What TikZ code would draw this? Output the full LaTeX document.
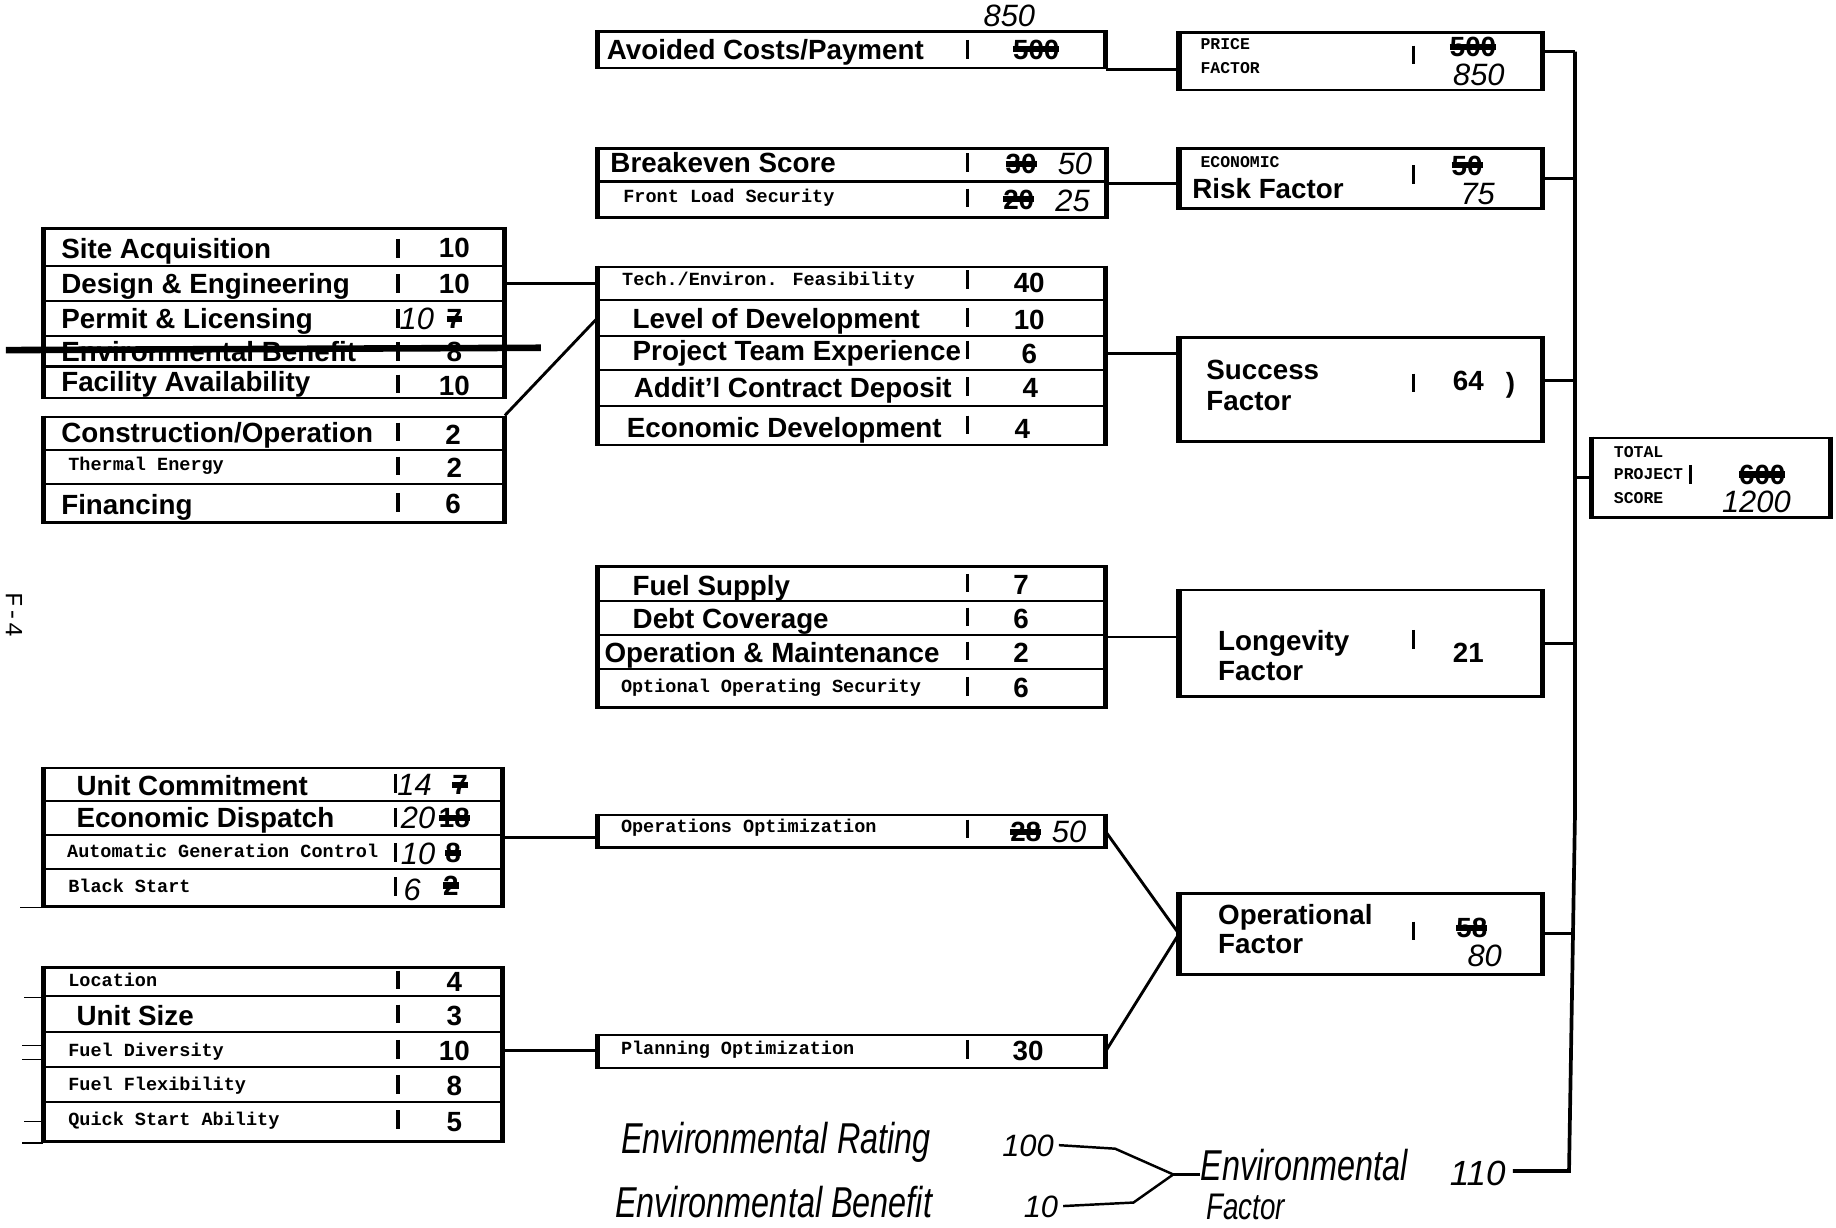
\documentclass[tikz,border=0pt]{standalone}
\usepackage{fontspec}
\setmainfont{Liberation Sans}
\newfontfamily\monof{Liberation Mono}
\newfontfamily\handw[FakeStretch=0.75]{Liberation Sans}
\newfontfamily\handn{Liberation Sans}
\usetikzlibrary{fit}
\newsavebox\skbox
\newcommand\sk[1]{\sbox\skbox{#1}\rlap{\rule[0.24em]{\wd\skbox}{0.22em}}\usebox\skbox}
\newcommand\bigf{\fontsize{13.5}{15}\selectfont\bfseries}
\newcommand\smf{\fontsize{9}{10}\selectfont\monof\bfseries}
\newcommand\tinyf{\fontsize{8}{9}\selectfont\monof\bfseries}
\newcommand\hn{\fontsize{15}{17}\selectfont\handn\itshape}
\newcommand\hw{\fontsize{21}{24}\selectfont\handw\itshape}
\newcommand\tk[2]{\draw[tk] (#1,#2) ++(0,-8) -- ++(0,16);}
\newcommand\rs[2]{\draw[sep] (#1.west |- 0,#2) -- (#1.east |- 0,#2);}
\newcommand\sides[1]{\draw[side] (#1.north west) -- (#1.south west) (#1.north east) -- (#1.south east);}
\tikzset{
  box/.style={draw, line width=1.3pt, inner sep=0pt},
  lbl/.style={anchor=west, inner sep=0pt, font=\bigf, text height=9.7pt, text depth=0pt},
  slbl/.style={anchor=west, inner sep=0pt, font=\smf, text height=5.9pt, text depth=0pt},
  tlbl/.style={slbl, font=\tinyf, text height=5.3pt},
  val/.style={inner sep=0pt, font=\bigf, text height=9.7pt, text depth=0pt},
  hv/.style={inner sep=0pt, font=\hn, text height=10.7pt, text depth=0pt},
  hwl/.style={anchor=west, inner sep=0pt, font=\hw, text height=15pt, text depth=0pt},
  sep/.style={line width=1pt},
  tk/.style={line width=1.6pt},
  conn/.style={line width=1.4pt},
  side/.style={line width=2.4pt},
  thinl/.style={line width=1.2pt},
  stub/.style={line width=0.6pt}
}
\begin{document}
\begin{tikzpicture}[x=0.02cm,y=-0.02cm]
\useasboundingbox[fill=white] (0,0) rectangle (1568,1048);

% ---------- Avoided costs ----------
\node[box, fit={(511,27)(943,58)}] (av) {};
\sides{av}
\node[lbl] (avt) at (518,42) {Avoided Costs/Payment};
\tk{826}{42}
\node[val] (avv) at (885,42) {\sk{500}};
\node[hv] (avh) at (862,13) {850};

% ---------- Price factor ----------
\node[box, fit={(1008,28)(1316,77)}] (pr) {};
\sides{pr}
\node[tlbl] (prt1) at (1025,38) {PRICE};
\node[tlbl] (prt2) at (1025,58) {FACTOR};
\tk{1207}{47}
\node[val] (prv) at (1258,40) {\sk{500}};
\node[hv] (prh) at (1263,64) {850};

% ---------- Breakeven ----------
\node[box, fit={(511,127)(944,186)}] (br) {};
\sides{br}
\rs{br}{155}
\node[lbl] (brt1) at (521,139) {Breakeven Score};
\node[slbl] (brt2) at (532,168) {Front Load Security};
\tk{826}{139} \tk{826}{169}
\node[val] (brv1) at (872,140) {\sk{30}};
\node[hv] (brh1) at (918,140) {50};
\node[val] (brv2) at (870,170) {\sk{20}};
\node[hv] (brh2) at (916,171) {25};

% ---------- Economic risk factor ----------
\node[box, fit={(1008,127)(1316,178)}] (rk) {};
\sides{rk}
\node[tlbl] (rkt1) at (1025,138) {ECONOMIC};
\node[lbl] (rkt2) at (1018,161) {Risk Factor};
\tk{1207}{149}
\node[val] (rkv) at (1253,141) {\sk{50}};
\node[hv] (rkh) at (1262,165) {75};

% ---------- Left box 1 ----------
\node[box, fit={(38,195)(430,340)}] (l1) {};
\sides{l1}
\rs{l1}{227} \rs{l1}{257} \rs{l1}{287} \rs{l1}{313}
\node[lbl] (l1t1) at (52,212) {Site Acquisition};
\node[lbl] (l1t2) at (52,242) {Design \& Engineering};
\node[lbl] (l1t3) at (52,272) {Permit \& Licensing};
\node[lbl] (l1t4) at (52,300) {Environmental Benefit};
\node[lbl] (l1t5) at (52,326) {Facility Availability};
\tk{340}{212} \tk{340}{242} \tk{340}{272} \tk{340}{300} \tk{340}{328}
\node[val] (l1v1) at (388,211) {10};
\node[val] (l1v2) at (388,242) {10};
\node[hv] (l1h3) at (356,272) {10};
\node[val] (l1v3) at (388,272) {\sk{7}};
\node[val] (l1v4) at (388,300) {8};
\node[val] (l1v5) at (388,329) {10};
\draw[line width=3.2pt] (5,299) -- (462,297);

% ---------- Left box 2 ----------
\node[box, fit={(38,356)(430,446)}] (l2) {};
\sides{l2}
\rs{l2}{384} \rs{l2}{413}
\node[lbl] (l2t1) at (52,369) {Construction/Operation};
\node[slbl] (l2t2) at (58,397) {Thermal Energy};
\node[lbl] (l2t3) at (52,431) {Financing};
\tk{340}{369} \tk{340}{398} \tk{340}{429}
\node[val] (l2v1) at (387,371) {2};
\node[val] (l2v2) at (388,399) {2};
\node[val] (l2v3) at (387,430) {6};

% ---------- Tech / success inputs ----------
\node[box, fit={(511,228)(943,380)}] (te) {};
\sides{te}
\rs{te}{256} \rs{te}{287} \rs{te}{316} \rs{te}{347}
\node[slbl] (tet1) at (531,239) {Tech./Environ. Feasibility};
\node[lbl] (tet2) at (540,272) {Level of Development};
\node[lbl] (tet3) at (540,299) {Project Team Experience};
\node[lbl] (tet4) at (541,331) {Addit'l Contract Deposit};
\node[lbl] (tet5) at (535,365) {Economic Development};
\tk{826}{239} \tk{826}{271} \tk{826}{299} \tk{826}{330} \tk{826}{363}
\node[val] (tev1) at (879,241) {40};
\node[val] (tev2) at (879,273) {10};
\node[val] (tev3) at (879,302) {6};
\node[val] (tev4) at (880,331) {4};
\node[val] (tev5) at (873,366) {4};

% ---------- Success factor ----------
\node[box, fit={(1008,288)(1316,377)}] (sc) {};
\sides{sc}
\node[lbl] (sct1) at (1030,316) {Success};
\node[lbl] (sct2) at (1030,342) {Factor};
\tk{1207}{327}
\node[val] (scv) at (1254,325) {64};
\node[val] (scp) at (1290,327) {)};

% ---------- Longevity inputs ----------
\node[box, fit={(511,484)(943,604)}] (lg) {};
\sides{lg}
\rs{lg}{513} \rs{lg}{542} \rs{lg}{571}
\node[lbl] (lgt1) at (540,500) {Fuel Supply};
\node[lbl] (lgt2) at (540,528) {Debt Coverage};
\node[lbl] (lgt3) at (516,557) {Operation \& Maintenance};
\node[slbl] (lgt4) at (530,586) {Optional Operating Security};
\tk{826}{498} \tk{826}{527} \tk{826}{556} \tk{826}{586}
\node[val] (lgv1) at (872,499) {7};
\node[val] (lgv2) at (872,528) {6};
\node[val] (lgv3) at (872,557) {2};
\node[val] (lgv4) at (872,587) {6};

% ---------- Longevity factor ----------
\node[box, fit={(1008,504)(1316,595)}] (lf) {};
\sides{lf}
\node[lbl] (lft1) at (1040,547) {Longevity};
\node[lbl] (lft2) at (1040,573) {Factor};
\tk{1207}{546}
\node[val] (lfv) at (1254,557) {21};

% ---------- Unit commitment box ----------
\node[box, fit={(38,656)(428,774)}] (uc) {};
\sides{uc}
\rs{uc}{684} \rs{uc}{713} \rs{uc}{742}
\node[lbl] (uct1) at (65,671) {Unit Commitment};
\node[lbl] (uct2) at (65,698) {Economic Dispatch};
\node[slbl] (uct3) at (57,727) {Automatic Generation Control};
\node[slbl] (uct4) at (58,757) {Black Start};
\tk{338}{669} \tk{338}{698} \tk{338}{728} \tk{338}{757}
\node[hv] (uch1) at (354,670) {14};
\node[val] (ucv1) at (393,670) {\sk{7}};
\node[hv] (uch2) at (357,698) {20};
\node[val] (ucv2) at (388,698) {\sk{18}};
\node[hv] (uch3) at (357,729) {10};
\node[val] (ucv3) at (387,728) {\sk{8}};
\node[hv] (uch4) at (352,760) {6};
\node[val] (ucv4) at (385,756) {\sk{2}};

% ---------- Location box ----------
\node[box, fit={(38,826)(428,975)}] (lo) {};
\sides{lo}
\rs{lo}{851} \rs{lo}{881} \rs{lo}{911} \rs{lo}{941}
\node[slbl] (lot1) at (58,837) {Location};
\node[lbl] (lot2) at (65,867) {Unit Size};
\node[slbl] (lot3) at (58,897) {Fuel Diversity};
\node[slbl] (lot4) at (58,926) {Fuel Flexibility};
\node[slbl] (lot5) at (58,956) {Quick Start Ability};
\tk{340}{837} \tk{340}{866} \tk{340}{896} \tk{340}{926} \tk{340}{956}
\node[val] (lov1) at (388,838) {4};
\node[val] (lov2) at (388,867) {3};
\node[val] (lov3) at (388,897) {10};
\node[val] (lov4) at (388,927) {8};
\node[val] (lov5) at (388,958) {5};
\draw[stub] (uc.south west) -- ++(-20,0);
\draw[stub] (lo.north west |- 0,852) -- ++(-16,0);
\draw[stub] (lo.west |- 0,893) -- ++(-18,0);
\draw[stub] (lo.west |- 0,905) -- ++(-18,0);
\draw[stub] (lo.west |- 0,958) -- ++(-16,0);
\draw[stub] (lo.south west) -- ++(-18,0);

% ---------- Operations / planning optimization ----------
\node[box, fit={(511,696)(943,724)}] (oo) {};
\sides{oo}
\node[slbl] (oot) at (530,706) {Operations Optimization};
\tk{826}{708}
\node[val] (oov) at (876,710) {\sk{28}};
\node[hv] (ooh) at (913,710) {50};
\node[box, fit={(511,884)(943,912)}] (po) {};
\sides{po}
\node[slbl] (pot) at (530,895) {Planning Optimization};
\tk{826}{896}
\node[val] (pov) at (878,897) {30};

% ---------- Operational factor ----------
\node[box, fit={(1008,763)(1316,832)}] (of) {};
\sides{of}
\node[lbl] (oft1) at (1040,781) {Operational};
\node[lbl] (oft2) at (1040,806) {Factor};
\tk{1207}{795}
\node[val] (ofv) at (1257,792) {\sk{58}};
\node[hv] (ofh) at (1268,816) {80};

% ---------- Total project score ----------
\node[box, fit={(1360,374)(1562,442)}] (tot) {};
\sides{tot}
\node[tlbl] (tott1) at (1378,386) {TOTAL};
\node[tlbl] (tott2) at (1378,405) {PROJECT};
\node[tlbl] (tott3) at (1378,425) {SCORE};
\tk{1444}{405}
\node[val] (totv) at (1505,405) {\sk{600}};
\node[hv] (toth) at (1500,428) {1200};

% ---------- Environmental (handwritten) ----------
\node[hwl] (ert) at (530,972) {Environmental Rating};
\node[hv] (er100) at (878,978) {100};
\node[hwl] (ebt) at (525,1027) {Environmental Benefit};
\node[hv] (eb10) at (889,1030) {10};
\node[hwl] (eft1) at (1025,995) {Environmental};
\node[hwl, font=\fontsize{18}{20}\selectfont\handw\itshape, text height=12.9pt] (eft2) at (1030,1030) {Factor};
\node[hv, font=\fontsize{17}{19}\selectfont\handn\itshape] (efv) at (1262,1003) {110};
\coordinate (bk) at (1002,1003);
\draw[thinl] (er100.east) ++(4,0) -- ++(48,3) -- (bk);
\draw[thinl] (eb10.east) ++(4,0) -- ++(60,-3) -- (bk);
\draw[thinl] (bk) -- (eft1.west |- bk);

% ---------- Page label ----------
\node[rotate=-90, inner sep=0pt, font=\fontsize{12}{12}\selectfont\monof] (pg) at (12,525) {F-4};

% ---------- Connectors ----------
\coordinate (bustop) at (1345,44);
\coordinate (busbot) at (1340,1000);
\coordinate (envend) at (1292,1000);
\draw[conn, line width=1.8pt] (bustop) -- (1345,700) -- (busbot) -- (envend);
\draw[conn] (av.south east) -- (av.south east -| pr.west);
\draw[conn] (pr.east |- bustop) -- (bustop);
\draw[conn] (br.east) -- (br.east -| rk.west);
\draw[conn] (rk.east) -- (rk.east -| bustop);
\draw[conn] (l1.east |- l1v2) -- (te.west |- l1v2);
\draw[conn] (l2.north east) -- (te.west |- tet2);
\draw[conn] (te.east |- tev3) -- (sc.west |- tev3);
\draw[conn] (sc.east |- scv) -- (scv -| bustop);
\draw[conn] (lg.east) -- (lg.east -| lf.west);
\draw[conn] (lf.east) -- (lf.east -| bustop);
\draw[conn] (uc.east) -- (uc.east -| oo.west);
\draw[conn] (lo.east |- lov3) -- (po.west |- lov3);
\draw[conn] (oo.east) -- (of.west);
\draw[conn] (po.east) -- (of.west);
\draw[conn] (of.east) -- (of.east -| bustop);
\draw[conn] (tot.west) -- (tot.west -| bustop);
\end{tikzpicture}
\end{document}
